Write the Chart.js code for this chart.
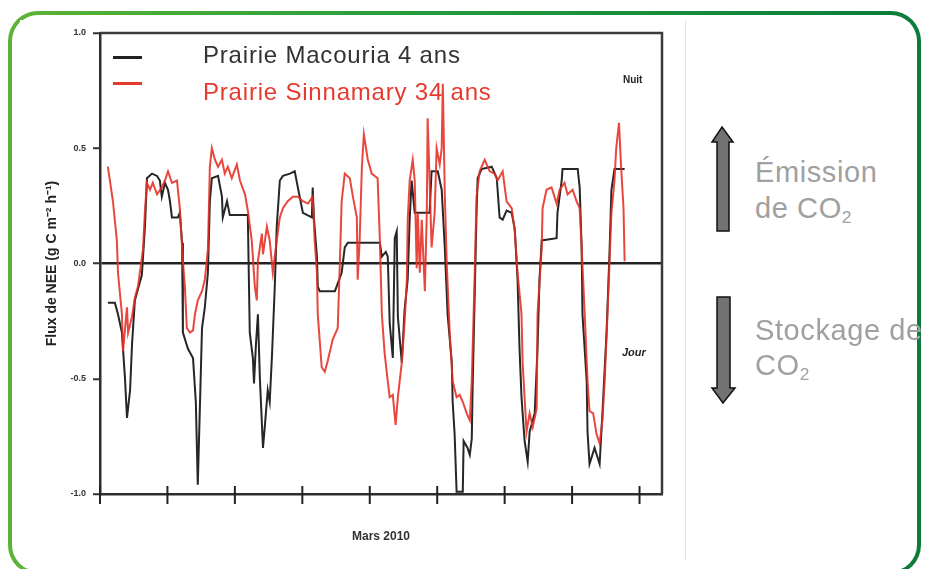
<!DOCTYPE html>
<html lang="fr">
<head>
<meta charset="utf-8">
<script src="https://cdn.jsdelivr.net/npm/chart.js@4.4.1/dist/chart.umd.min.js"></script>
<style>
  body { margin: 0; width: 925px; height: 569px; overflow: hidden; background: #fff; font-family: "Liberation Sans", Arial, sans-serif; }
  .cadre { position: absolute; left: 8px; top: 11px; width: 913px; height: 564px; border-radius: 30px;
           background: linear-gradient(90deg, #5db336 0%, #249c3c 45%, #0b7b3a 100%); }
  .cadre-int { position: absolute; left: 4px; top: 4px; right: 4px; bottom: 4px; border-radius: 26px; background: #fff; }
  #wrap { position: absolute; left: 20px; top: 20px; width: 665px; height: 540px; background: #fff; border-right: 1px solid #e2e2e2; }
  .leg-line { position: absolute; left: 113px; width: 29px; height: 3px; }
  .leg-txt { position: absolute; left: 203px; font-size: 24px; line-height: 28px; letter-spacing: 0.8px; white-space: nowrap; }
  .note { position: absolute; font-weight: bold; color: #222; white-space: nowrap; }
  .cote { position: absolute; left: 755px; font-size: 29px; letter-spacing: 0.6px; color: #a0a0a0; white-space: nowrap; }
  .cote sub { font-size: 0.6em; vertical-align: -0.3em; line-height: 0; }
</style>
</head>
<body>
<div class="cadre"><div class="cadre-int"></div></div>
<div id="wrap"><canvas id="c"></canvas></div>

<div class="leg-line" style="top:56px;background:#222"></div>
<div class="leg-line" style="top:82px;background:#e53a2e"></div>
<div class="leg-txt" style="top:41px;color:#333">Prairie Macouria 4 ans</div>
<div class="leg-txt" style="top:78px;color:#e53a2e">Prairie Sinnamary 34 ans</div>
<div class="note" style="left:623px;top:74px;font-size:10px">Nuit</div>
<div class="note" style="left:622px;top:346px;font-size:11px;font-style:italic">Jour</div>

<svg style="position:absolute;left:700px;top:120px" width="50" height="300">
  <polygon points="22,7 33,22 29,22 29,111 17,111 17,22 12,22" fill="#727272" stroke="#111" stroke-width="1.5"/>
  <polygon points="17,177 30,177 30,268 35,268 23,283 12,268 17,268" fill="#727272" stroke="#111" stroke-width="1.5"/>
</svg>
<div class="cote" style="top:154px;line-height:36px">Émission<br>de CO<sub>2</sub></div>
<div class="cote" style="top:313px;line-height:35px">Stockage de<br>CO<sub>2</sub></div>

<script>
// NEE, mars 2010 ; x en heures depuis le début de la série
const macouriaHeures = [2.8, 5.3, 6.4, 7.8, 8.9, 9.6, 10.7, 11.4, 12.4, 14.2, 14.9, 16.0, 16.7, 18.5, 20.3, 21.3, 22.0, 23.1, 24.2, 24.9,
  25.6, 27.7, 28.4, 29.2, 29.5, 31.3, 33.1, 34.1, 34.8, 35.6, 36.3, 37.3, 38.4, 39.1, 39.8, 42.0, 43.4, 43.7, 45.2, 46.2,
  52.6, 53.3, 54.4, 54.8, 55.5, 56.2, 56.9, 58.0, 58.7, 59.7, 60.4, 61.2, 62.2, 62.9, 64.0, 65.1, 67.6, 69.3, 70.4, 72.2,
  75.4, 75.7, 76.1, 77.2, 77.5, 78.2, 83.6, 86.0, 87.1, 88.2, 99.6, 100.3, 101.7, 102.4, 103.1, 104.2, 104.9, 105.6, 106.0, 107.4,
  108.4, 109.5, 110.2, 110.9, 112.0, 117.3, 118.0, 120.2, 121.6, 122.7, 123.7, 125.2, 125.5, 126.2, 126.9, 129.1, 129.4, 130.8, 131.6, 132.3,
  132.6, 133.3, 134.0, 134.4, 135.8, 139.4, 141.2, 142.2, 143.3, 144.7, 146.5, 147.6, 148.6, 149.3, 150.0, 151.1, 152.2, 152.9, 154.7, 155.7,
  156.4, 157.2, 162.5, 162.8, 164.3, 164.6, 170.0, 170.7, 171.4, 171.7, 173.2, 173.5, 174.2, 176.0, 177.8, 178.8, 180.3, 181.3, 182.0, 183.1, 186.7];
const macouriaNEE = [-0.17, -0.17, -0.22, -0.30, -0.50, -0.67, -0.55, -0.35, -0.16, -0.08, -0.05, 0.16, 0.37, 0.39, 0.38, 0.36, 0.29, 0.35, 0.32, 0.27,
  0.20, 0.20, 0.22, 0.09, -0.30, -0.37, -0.41, -0.60, -0.96, -0.60, -0.28, -0.19, -0.04, 0.27, 0.37, 0.38, 0.29, 0.20, 0.27, 0.21,
  0.21, -0.30, -0.41, -0.52, -0.35, -0.22, -0.50, -0.80, -0.70, -0.55, -0.60, -0.40, -0.10, 0.16, 0.36, 0.38, 0.39, 0.40, 0.33, 0.22,
  0.20, 0.33, 0.20, 0.03, -0.10, -0.12, -0.12, -0.04, 0.07, 0.09, 0.09, 0.03, 0.05, 0.03, -0.26, -0.41, 0.11, 0.14, -0.23, -0.43,
  -0.20, -0.07, 0.19, 0.36, 0.22, 0.22, 0.40, 0.40, 0.32, 0.07, -0.22, -0.43, -0.60, -0.74, -0.99, -0.99, -0.77, -0.80, -0.83, -0.76,
  -0.54, -0.16, 0.22, 0.37, 0.41, 0.42, 0.37, 0.20, 0.19, 0.23, 0.22, 0.15, -0.07, -0.37, -0.58, -0.77, -0.86, -0.73, -0.65, -0.37,
  -0.07, 0.10, 0.11, 0.22, 0.36, 0.41, 0.41, 0.33, 0.07, -0.22, -0.51, -0.73, -0.87, -0.80, -0.87, -0.65, -0.29, 0.04, 0.32, 0.41, 0.41];

const sinnamaryHeures = [2.8, 4.6, 6.0, 6.4, 7.8, 8.2, 9.6, 10.0, 11.4, 12.4, 13.5, 15.3, 16.0, 16.7, 17.8, 18.8, 20.3, 22.0, 23.1, 24.2,
  25.6, 27.4, 28.4, 29.5, 30.2, 30.9, 32.0, 33.1, 33.8, 34.8, 36.3, 37.3, 38.4, 39.1, 39.8, 40.9, 42.0, 43.4, 44.4, 45.5,
  46.9, 48.7, 49.8, 51.6, 52.6, 54.0, 55.1, 55.8, 56.2, 57.6, 58.0, 59.4, 60.4, 61.5, 62.9, 64.0, 65.1, 66.8, 68.6, 70.4,
  72.2, 74.0, 75.7, 76.4, 77.2, 77.5, 78.9, 80.0, 81.1, 82.8, 84.6, 85.3, 86.0, 87.1, 88.9, 90.0, 91.4, 91.7, 92.4, 93.2,
  93.9, 95.3, 96.7, 98.8, 99.6, 100.3, 101.3, 102.4, 103.1, 104.2, 105.2, 106.0, 107.4, 108.4, 109.2, 109.5, 110.2, 111.3, 112.0, 112.7,
  113.1, 113.8, 114.5, 115.6, 116.3, 116.6, 117.3, 118.0, 119.1, 119.8, 120.9, 121.6, 122.0, 122.7, 123.4, 124.4, 125.5, 126.9, 128.0, 129.1,
  130.5, 131.6, 132.3, 133.3, 134.0, 135.1, 136.9, 138.7, 140.4, 141.5, 143.3, 144.7, 146.5, 147.6, 148.6, 150.0, 150.4, 151.1, 151.8, 152.9,
  154.0, 155.4, 155.7, 157.2, 157.5, 158.9, 160.7, 162.5, 163.6, 165.3, 166.4, 168.2, 169.6, 170.7, 171.4, 172.5, 173.5, 174.2, 175.5, 176.7,
  177.8, 178.8, 179.6, 180.6, 182.0, 183.1, 183.7, 184.7, 185.4, 186.3, 186.7];
const sinnamaryNEE = [0.42, 0.27, 0.10, -0.04, -0.22, -0.38, -0.19, -0.30, -0.23, -0.15, -0.10, 0.06, 0.23, 0.35, 0.32, 0.35, 0.30, 0.33, 0.36, 0.40,
  0.35, 0.36, 0.24, 0.01, -0.10, -0.28, -0.30, -0.29, -0.22, -0.16, -0.12, -0.07, 0.06, 0.42, 0.50, 0.45, 0.42, 0.45, 0.39, 0.42,
  0.37, 0.43, 0.36, 0.30, 0.23, 0.10, -0.10, -0.16, 0.01, 0.13, 0.04, 0.16, 0.10, -0.04, 0.10, 0.20, 0.24, 0.27, 0.29, 0.29,
  0.27, 0.26, 0.29, 0.10, -0.04, -0.22, -0.45, -0.47, -0.42, -0.33, -0.28, -0.02, 0.27, 0.39, 0.37, 0.29, 0.20, -0.07, 0.10, 0.42,
  0.56, 0.45, 0.39, 0.37, 0.10, -0.22, -0.39, -0.51, -0.58, -0.57, -0.70, -0.58, -0.43, -0.25, -0.07, 0.19, 0.36, 0.45, 0.36, -0.02,
  0.22, -0.04, 0.19, -0.12, 0.22, 0.63, 0.36, 0.07, 0.22, 0.50, 0.43, 0.50, 0.78, 0.30, 0.00, -0.29, -0.51, -0.58, -0.57, -0.60,
  -0.65, -0.68, -0.51, -0.07, 0.29, 0.40, 0.45, 0.40, 0.39, 0.36, 0.40, 0.27, 0.24, 0.14, -0.04, -0.22, -0.43, -0.58, -0.73, -0.65,
  -0.71, -0.63, -0.22, 0.07, 0.24, 0.32, 0.33, 0.26, 0.32, 0.35, 0.30, 0.32, 0.27, 0.24, 0.07, -0.22, -0.51, -0.64, -0.65, -0.74,
  -0.78, -0.68, -0.51, -0.22, 0.22, 0.36, 0.50, 0.61, 0.43, 0.24, 0.01];

const joursTicks = [0, 24, 48, 72, 96, 120, 144, 168, 192];
const neeTicks = [-1, -0.5, 0, 0.5, 1];

const toPoints = (xs, ys) => xs.map((x, i) => ({ x: x, y: ys[i] }));

// cadre haut + droite et graduations qui traversent l'axe x
const cadrePlugin = {
  id: 'cadre',
  afterDatasetsDraw(chart) {
    const { ctx, chartArea: a, scales } = chart;
    ctx.save();
    ctx.strokeStyle = '#3a3a3a';
    ctx.lineWidth = 2.5;
    ctx.beginPath();
    ctx.moveTo(a.left, a.top);
    ctx.lineTo(a.right, a.top);
    ctx.lineTo(a.right, a.bottom);
    ctx.stroke();
    ctx.lineWidth = 2;
    ctx.strokeStyle = '#222';
    joursTicks.forEach(v => {
      const px = scales.x.getPixelForValue(v);
      ctx.beginPath();
      ctx.moveTo(px, a.bottom - 8);
      ctx.lineTo(px, a.bottom + 10);
      ctx.stroke();
    });
    ctx.restore();
  }
};

new Chart(document.getElementById('c'), {
  type: 'line',
  data: {
    datasets: [
      {
        label: 'Prairie Sinnamary 34 ans',
        data: toPoints(sinnamaryHeures, sinnamaryNEE),
        borderColor: 'rgba(230, 45, 35, 0.88)',
        borderWidth: 2,
        pointRadius: 0,
        order: 0
      },
      {
        label: 'Prairie Macouria 4 ans',
        data: toPoints(macouriaHeures, macouriaNEE),
        borderColor: '#262626',
        borderWidth: 2,
        pointRadius: 0,
        order: 1
      }
    ]
  },
  options: {
    responsive: true,
    maintainAspectRatio: false,
    animation: false,
    layout: { padding: { top: 13, right: 23, left: 0, bottom: 0 } },
    plugins: { legend: { display: false }, tooltip: { enabled: false } },
    scales: {
      x: {
        type: 'linear',
        min: 0,
        max: 200,
        afterBuildTicks: s => { s.ticks = joursTicks.map(v => ({ value: v })); },
        afterFit: s => { s.height = 66; },
        ticks: { display: false },
        grid: { display: false },
        border: { display: true, color: '#2e2e2e', width: 2.5 },
        title: {
          display: true,
          text: 'Mars 2010',
          color: '#333',
          font: { family: '"Liberation Sans Narrow", "Liberation Sans", Arial', size: 12, weight: 'bold' },
          padding: { top: 0, bottom: 16 }
        }
      },
      y: {
        min: -1,
        max: 1,
        afterBuildTicks: s => { s.ticks = neeTicks.map(v => ({ value: v })); },
        afterFit: s => { s.width = 80; },
        ticks: {
          callback: v => v.toFixed(1),
          color: '#333',
          padding: 7,
          font: { family: '"Liberation Sans Narrow", "Liberation Sans", Arial', size: 9, weight: 'bold' }
        },
        grid: {
          color: c => (c.tick && c.tick.value === 0 ? '#222' : 'rgba(0,0,0,0)'),
          lineWidth: 2.5,
          tickColor: '#333',
          tickLength: 7,
          tickWidth: 2
        },
        border: { display: true, color: '#2e2e2e', width: 2.5 },
        title: {
          display: true,
          text: 'Flux de NEE (g C m⁻² h⁻¹)',
          color: '#222',
          font: { family: '"Liberation Sans", Arial', size: 14, weight: 'bold' },
          padding: { top: 24, bottom: 0 }
        }
      }
    }
  },
  plugins: [cadrePlugin]
});
</script>
</body>
</html>
